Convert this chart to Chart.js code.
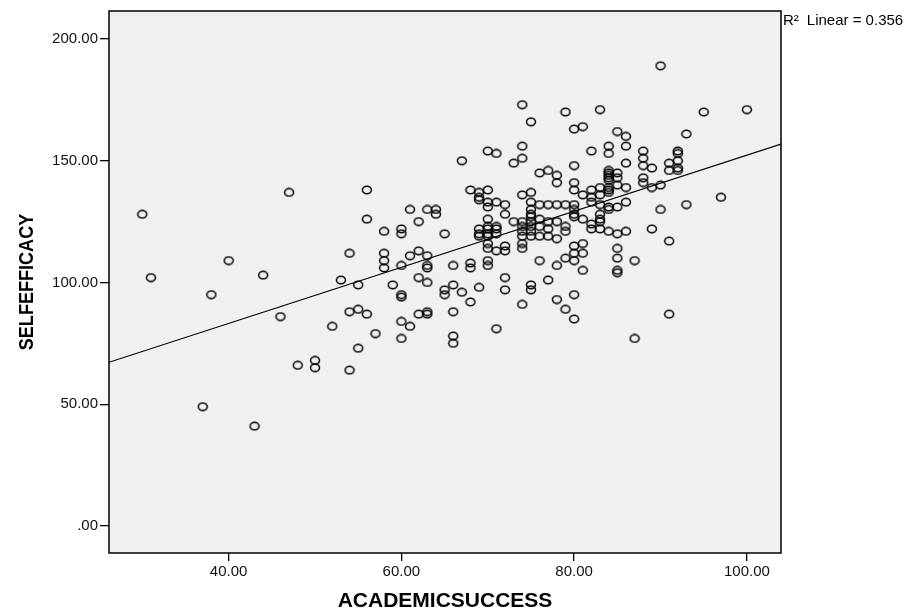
<!DOCTYPE html>
<html>
<head>
<meta charset="utf-8">
<script src="https://cdn.jsdelivr.net/npm/chart.js@4.4.0/dist/chart.umd.min.js"></script>
<style>
  html, body { margin: 0; padding: 0; background: #fff; }
  #wrap { width: 910px; height: 610px; }
</style>
</head>
<body>
<div id="wrap"><canvas id="myChart" width="910" height="610"></canvas></div>
<script>
// [academic success, self efficacy]
const scores = [
  [30,128],[31,102],[37,49],[38,95],[40,109],[43,41],[44,103],[46,86],[47,137],[48,66],
  [50,68],[50,65],[52,82],[53,101],[54,112],[54,88],[54,64],[55,99],[55,89],[55,73],
  [56,138],[56,126],[56,87],[57,79],[58,121],[58,112],[58,109],[58,106],[59,99],
  [60,122],[60,120],[60,107],[60,95],[60,94],[60,84],[60,77],
  [61,130],[61,111],[61,82],
  [62,125],[62,113],[62,102],[62,87],
  [63,130],[63,111],[63,107],[63,106],[63,100],[63,88],[63,87],
  [64,130],[64,128],
  [65,120],[65,97],[65,95],
  [66,107],[66,99],[66,88],[66,78],[66,75],
  [67,150],[67,96],
  [68,138],[68,108],[68,106],[68,92],
  [69,137],[69,135],[69,134],[69,122],[69,120],[69,119],[69,98],
  [70,154],[70,138],[70,133],[70,131],[70,126],[70,123],[70,122],[70,120],[70,119],[70,116],[70,114],[70,109],[70,107],
  [71,153],[71,133],[71,123],[71,122],[71,120],[71,113],[71,81],
  [72,132],[72,128],[72,115],[72,113],[72,102],[72,97],
  [73,149],[73,125],
  [74,173],[74,156],[74,151],[74,136],[74,125],[74,123],[74,121],[74,119],[74,116],[74,114],[74,91],
  [75,166],[75,137],[75,133],[75,130],[75,128],[75,127],[75,125],[75,123],[75,121],[75,119],[75,99],[75,97],
  [76,145],[76,132],[76,126],[76,123],[76,119],[76,109],
  [77,146],[77,132],[77,125],[77,122],[77,119],[77,101],
  [78,144],[78,141],[78,132],[78,125],[78,118],[78,107],[78,93],
  [79,170],[79,132],[79,123],[79,121],[79,110],[79,89],
  [80,163],[80,148],[80,141],[80,138],[80,132],[80,130],[80,128],[80,127],[80,115],[80,112],[80,109],[80,95],[80,85],
  [81,164],[81,136],[81,126],[81,116],[81,112],[81,105],
  [82,154],[82,138],[82,135],[82,133],[82,124],[82,122],
  [83,171],[83,139],[83,136],[83,132],[83,128],[83,126],[83,125],[83,122],
  [84,156],[84,153],[84,146],[84,145],[84,144],[84,143],[84,142],[84,139],[84,138],[84,137],[84,131],[84,130],[84,121],
  [85,162],[85,145],[85,143],[85,140],[85,131],[85,120],[85,114],[85,110],[85,105],[85,104],
  [86,160],[86,156],[86,149],[86,139],[86,133],[86,121],
  [87,109],[87,77],
  [88,154],[88,151],[88,148],[88,143],[88,141],
  [89,147],[89,139],[89,122],
  [90,189],[90,140],[90,130],
  [91,149],[91,146],[91,117],[91,87],
  [92,154],[92,153],[92,150],[92,147],[92,146],
  [93,161],[93,132],
  [95,170],[97,135],[100,171]
];

const xTicks = [40, 60, 80, 100];
const yTicks = [0, 50, 100, 150, 200];
const xRange = [26.15, 103.95];
const yRange = [-11.1, 211.5];

// linear fit as printed on the chart (R2 = 0.356)
const fitIntercept = 37.1;
const fitSlope = 1.152;
const fitName = "R\u00B2";
const fitText = "Linear = 0.356";

const xTitle = "ACADEMICSUCCESS";
const yTitle = "SELFEFFICACY";

const FONT = "'Liberation Sans', Arial, sans-serif";

// open elliptical marker like the SPSS one
function makeMarker() {
  const c = document.createElement("canvas");
  c.width = 12;
  c.height = 10;
  const g = c.getContext("2d");
  g.strokeStyle = "#000";
  g.lineWidth = 1.5;
  g.beginPath();
  g.ellipse(6, 5, 4.5, 3.7, 0, 0, Math.PI * 2);
  g.stroke();
  return c;
}

function fmt(v) {
  return v === 0 ? ".00" : v.toFixed(2);
}

const frame = {
  id: "frame",
  beforeDraw(chart) {
    const { ctx, chartArea: a } = chart;
    ctx.save();
    ctx.fillStyle = "#fff";
    ctx.fillRect(0, 0, chart.width, chart.height);
    ctx.fillStyle = "#f0f0f0";
    ctx.fillRect(a.left, a.top, a.right - a.left, a.bottom - a.top);
    ctx.restore();
  },
  afterDraw(chart) {
    const { ctx, chartArea: a } = chart;
    ctx.save();
    ctx.strokeStyle = "#000";
    ctx.lineWidth = 1.5;
    ctx.strokeRect(a.left, a.top, a.right - a.left, a.bottom - a.top);

    ctx.fillStyle = "#000";
    ctx.font = "15px " + FONT;
    ctx.textAlign = "left";
    ctx.textBaseline = "alphabetic";
    ctx.fillText(fitName, a.right + 2, 25);
    ctx.fillText(fitText, a.right + 2 + ctx.measureText(fitName).width + 8, 25);

    ctx.font = "bold 21px " + FONT;
    ctx.textAlign = "center";
    ctx.fillText(xTitle, (a.left + a.right) / 2, 607);

    ctx.translate(32.5, (a.top + a.bottom) / 2);
    ctx.rotate(-Math.PI / 2);
    ctx.scale(0.86, 1);
    ctx.fillText(yTitle, 0, 0);
    ctx.restore();
  },
};

const tickFont = { family: FONT, size: 15 };

new Chart(document.getElementById("myChart"), {
  type: "scatter",
  data: {
    datasets: [
      {
        data: scores.map(([x, y]) => ({ x, y })),
        pointStyle: makeMarker(),
        pointRadius: 5,
        pointHoverRadius: 5,
      },
      {
        type: "line",
        data: xRange.map((x) => ({ x, y: fitIntercept + fitSlope * x })),
        borderColor: "#000",
        borderWidth: 1.1,
        pointRadius: 0,
        fill: false,
      },
    ],
  },
  options: {
    responsive: false,
    animation: false,
    layout: { padding: { top: 11, right: 129, bottom: 0, left: 0 } },
    plugins: {
      legend: { display: false },
      tooltip: { enabled: false },
    },
    scales: {
      x: {
        type: "linear",
        min: xRange[0],
        max: xRange[1],
        afterBuildTicks: (s) => { s.ticks = xTicks.map((v) => ({ value: v })); },
        afterFit: (s) => { s.height = 57; },
        ticks: { callback: fmt, font: tickFont, color: "#111", padding: 2, maxRotation: 0 },
        grid: { drawOnChartArea: false, tickLength: 8, color: "#000", lineWidth: 1.3 },
        border: { display: false },
      },
      y: {
        type: "linear",
        min: yRange[0],
        max: yRange[1],
        afterBuildTicks: (s) => { s.ticks = yTicks.map((v) => ({ value: v })); },
        afterFit: (s) => { s.width = 109; },
        ticks: { callback: fmt, font: tickFont, color: "#111", padding: 2 },
        grid: { drawOnChartArea: false, tickLength: 9, color: "#000", lineWidth: 1.3 },
        border: { display: false },
      },
    },
  },
  plugins: [frame],
});
</script>
</body>
</html>
